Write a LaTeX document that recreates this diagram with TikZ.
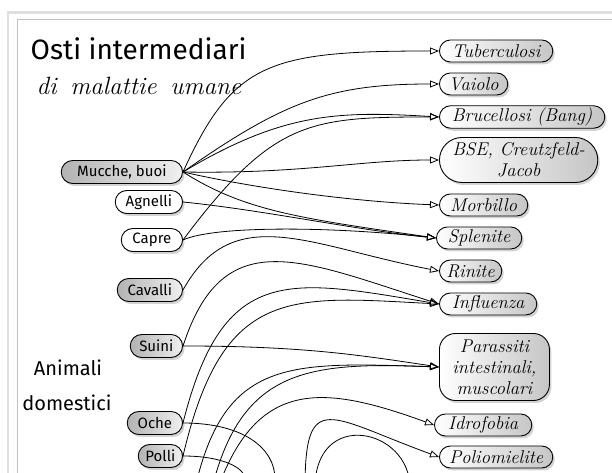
\documentclass[tikz,border=0pt]{standalone}
\usepackage{fontspec}
\usetikzlibrary{arrows.meta,shapes.misc,shadows}
\newfontfamily\comicfont{Fira Sans}

\begin{document}
\begin{tikzpicture}[x=1pt,y=1pt,-,>={Triangle[open,length=9pt,width=7pt]},line width=0.8pt,
  host node/.style={rounded rectangle,draw,line width=0.9pt,minimum height=23pt,inner ysep=2pt,anchor=east,font=\comicfont\fontsize{15}{18}\selectfont,drop shadow={shadow xshift=2pt,shadow yshift=-2.5pt,opacity=.35}},
  grey host/.style={host node,left color=gray!60,right color=gray!12},
  white host/.style={host node,fill=white},
  disease node/.style={rounded rectangle,draw,line width=0.9pt,minimum height=22pt,inner ysep=2pt,anchor=west,align=center,font=\itshape\fontsize{18.5}{21}\selectfont,left color=white,right color=gray!45,drop shadow={shadow xshift=2pt,shadow yshift=-2.5pt,opacity=.35}}]

\useasboundingbox (0,0) rectangle (612,473);
\clip (0,0) rectangle (612,473);

\draw[gray!25,line width=2.5pt] (8,-5) -- (8,460.5) -- (620,460.5);
\draw[gray!50,line width=0.7pt] (17,-5) -- (17,454) -- (620,454);

\node[anchor=base west,font=\comicfont\fontsize{28}{32}\selectfont] (t1) at (27,413) {Osti intermediari};
\node[anchor=base west,font=\itshape\fontsize{25}{28}\selectfont] (t2) at (33,378) {di\hspace{5pt} malattie\hspace{5pt} umane};
\node[font=\comicfont\fontsize{20}{24}\selectfont] (t3) at (68,105) {Animali};
\node[font=\comicfont\fontsize{20}{24}\selectfont] (t4) at (67,70) {domestici};

\node[grey host,minimum width=128pt] (h1) at (183,301) {Mucche, buoi};
\node[white host,minimum width=74pt] (h2) at (183,271) {Agnelli};
\node[white host,minimum width=68pt] (h3) at (183,233) {Capre};
\node[grey host,minimum width=72pt] (h4) at (183,183) {Cavalli};
\node[grey host,minimum width=59pt] (h5) at (183,127) {Suini};
\node[grey host,minimum width=62pt] (h6) at (183,50) {Oche};
\node[grey host,minimum width=51pt] (h7) at (183,17) {Polli};

\node[disease node,minimum width=120pt] (d1) at (439,422) {Tuberculosi};
\node[disease node,minimum width=75pt] (d2) at (439,389) {Vaiolo};
\node[disease node,minimum width=172pt] (d3) at (439,356) {Brucellosi (Bang)};
\node[disease node,minimum width=165pt,minimum height=45pt] (d4) at (439,313) {BSE, Creutzfeld-\\Jacob};
\node[disease node,minimum width=95pt] (d5) at (439,268) {Morbillo};
\node[disease node,minimum width=92pt] (d6) at (436,235) {Splenite};
\node[disease node,minimum width=69pt] (d7) at (439,202) {Rinite};
\node[disease node,minimum width=104pt] (d8) at (439,169) {Influenza};
\node[disease node,rectangle,rounded corners=16pt,minimum width=110pt,minimum height=67pt] (d9) at (439,106) {Parassiti\\intestinali,\\muscolari};
\node[disease node,minimum width=104pt] (d10) at (434,48) {Idrofobia};
\node[disease node,minimum width=120pt] (d11) at (439,16) {Poliomielite};

\coordinate (o1) at (195,-15);
\coordinate (o2) at (212,-15);
\coordinate (o3) at (218,-15);
\coordinate (o4) at (305,-15);
\coordinate (o5) at (275,-15);
\coordinate (o6) at (245,-15);
\coordinate (o7) at (315,-15);
\coordinate (o8) at (410,-15);

\draw[->] (h1.east) .. controls +(50,110) and +(-170,0) .. (d1.west);
\draw[->] (h1.east) .. controls +(100,70) and +(-110,0) .. (d2.west);
\draw[->] (h1.east) .. controls +(100,60) and +(-100,6) .. (d3.west);
\draw[->] (h1.east) .. controls +(120,-2) and +(-80,0) .. (d4.west);
\draw[->] (h1.east) .. controls +(80,-18) and +(-80,3) .. (d5.west);
\draw[->] (h1.east) .. controls +(60,-38) and +(-140,20) .. (d6.west);
\draw[->] (h2.east) .. controls +(80,-8) and +(-80,8) .. (d6.west);
\draw[->] (h3.east) .. controls +(30,14) and +(-110,12) .. (d6.west);
\draw[->] (h3.east) .. controls +(90,120) and +(-130,0) .. (d3.west);
\draw[->] (h4.east) .. controls +(50,90) and +(-130,25) .. (d7.west);
\draw[->] (h5.east) .. controls +(40,123) and +(-140,45) .. (d8.west);
\draw[->] (h5.east) .. controls +(120,0) and +(-80,12) .. (d9.west);
\draw[->] (h6.east) .. controls +(40,160) and +(-150,25) .. (d8.west);
\draw[->] (h7.east) .. controls +(40,170) and +(-150,8) .. (d8.west);
\draw[->] (o1) .. controls +(30,130) and +(-150,5) .. (d9.west);
\draw[->] (o2) .. controls +(30,120) and +(-130,5) .. (d9.west);
\draw[->] (o3) .. controls +(40,110) and +(-110,40) .. (d10.west);
\draw[->] (o4) .. controls +(0,100) and +(-110,40) .. (d11.west);
\draw[->] (h6.east) .. controls +(60,0) and +(0,40) .. (o5);
\draw[->] (h7.east) .. controls +(40,0) and +(0,20) .. (o6);
\draw (o7) .. controls +(0,80) and +(0,60) .. (o8);

\end{tikzpicture}
\end{document}
